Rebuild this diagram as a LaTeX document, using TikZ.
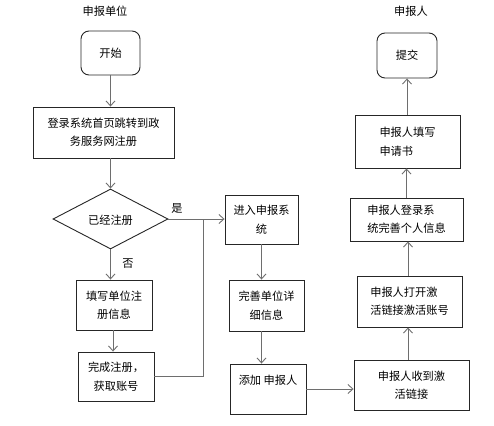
\documentclass[tikz,border=0pt]{standalone}
\usepackage{fontspec}
\setmainfont{Noto Sans CJK SC}
\usetikzlibrary{arrows.meta,shapes.geometric}
\definecolor{boxline}{HTML}{262626}
\definecolor{arrline}{HTML}{6E6E6E}
\tikzset{
  txt/.style={font=\fontsize{11.2}{18.5}\selectfont, text=black, inner sep=0pt},
  box/.style={txt, draw=boxline, line width=0.9pt, rectangle},
  rbox/.style={box, rounded corners=8pt},
  dia/.style={txt, draw=boxline, line width=0.9pt, diamond},
  arr/.style={draw=arrline, line width=0.9pt, -{Straight Barb[length=5pt,width=9pt,line width=0.9pt]}},
  ln/.style={draw=arrline, line width=0.9pt},
}
\begin{document}
\begin{tikzpicture}[x=1pt,y=-1pt]
\useasboundingbox (0,0) rectangle (494,425);
% titles
\node[txt] (t1) at (105,11) {申报单位};
\node[txt] (t2) at (411,11) {申报人};
% left column
\node[rbox, minimum width=59pt, minimum height=44pt] (start) at (110.5,53) {开始};
\node[box, align=center, minimum width=141pt, minimum height=51pt] (reg) at (103.5,132.5) {登录系统首页跳转到政\\务服务网注册};
\node[dia, minimum width=115pt, minimum height=60pt] (chk) at (110.5,219) {};
\node[txt] (chkt) at (110.5,220) {已经注册};
\node[box, align=center, minimum width=76pt, minimum height=50pt] (fill) at (114,305) {填写单位注\\册信息};
\node[box, align=center, minimum width=76pt, minimum height=49pt] (done) at (116,376.5) {完成注册，\\获取账号};
% middle column
\node[box, align=center, minimum width=73pt, minimum height=49pt] (enter) at (261.5,219.5) {进入申报系\\统};
\node[box, align=center, minimum width=75pt, minimum height=51pt] (perf) at (266.5,305.5) {完善单位详\\细信息};
\node[box, align=center, minimum width=76pt, minimum height=50pt] (add) at (268,389) {添加 申报人\\~};
% right column
\node[box, align=center, minimum width=115pt, minimum height=50pt] (recv) at (411.5,385) {申报人收到激\\活链接};
\node[box, align=left, minimum width=105pt, minimum height=51pt] (open) at (409.5,301.5) {申报人打开激\\活链接激活账号};
\node[box, align=left, minimum width=113pt, minimum height=43pt] (login) at (406.5,219.5) {申报人登录系\\统完善个人信息};
\node[box, align=left, minimum width=105pt, minimum height=53pt] (apply) at (407.5,141.5) {申报人填写\hspace{2.2em}\\申请书};
\node[rbox, minimum width=60pt, minimum height=45pt] (sub) at (407,55.5) {提交};
% labels
\node[txt] (yes) at (177,208) {是};
\node[txt] (no) at (128,264) {否};
\coordinate (jn) at (203,219);
% connectors
\draw[arr] (start.south) -- (start.south |- reg.north);
\draw[arr] (chk.north |- reg.south) -- (chk.north);
\draw[arr] (chk.south) -- (chk.south |- fill.north);
\draw[arr] ([xshift=-1pt]fill.south) -- ([xshift=-1pt]fill.south |- done.north);
\draw[ln] (done.east) -| (jn);
\draw[arr] (chk.east) -- (chk.east -| enter.west);
\draw[arr] (enter.south) -- (enter.south |- perf.north);
\draw[arr] (enter.south |- perf.south) -- (enter.south |- add.north);
\draw[arr] (add.east) -- (add.east -| recv.west);
\draw[arr] ([xshift=-1.5pt]open.south |- recv.north) -- ([xshift=-1.5pt]open.south);
\draw[arr] ([xshift=1.5pt]login.south |- open.north) -- ([xshift=1.5pt]login.south);
\draw[arr] (login.north) -- (login.north |- apply.south);
\draw[arr] (sub.south |- apply.north) -- (sub.south);
\end{tikzpicture}
\end{document}
